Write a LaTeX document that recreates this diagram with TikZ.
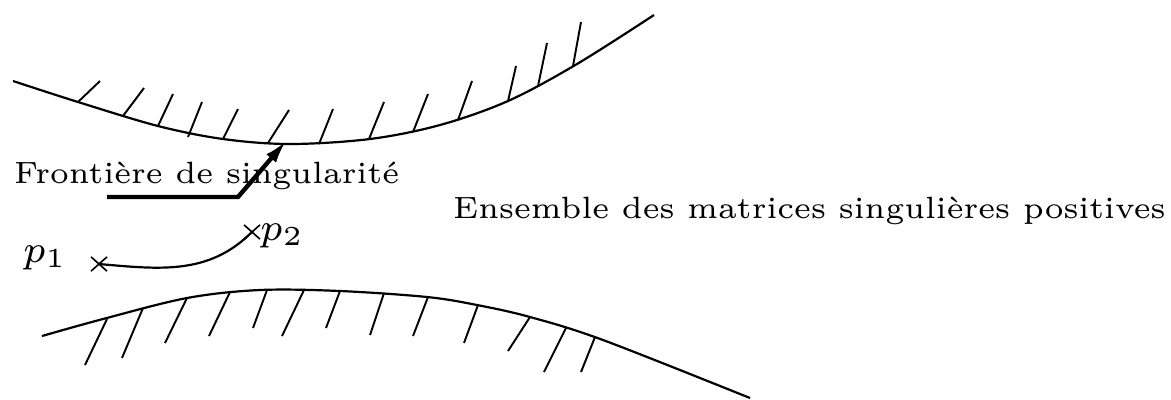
\documentclass[tikz,border=0pt]{standalone}
\usetikzlibrary{arrows.meta,shapes.misc}

\begin{document}
\begin{tikzpicture}[
  x=0.182pt, y=-0.182pt,
  font=\fontsize{5.6}{6.5}\selectfont,
  bord/.style={line width=0.4pt},
  hatch/.style={line width=0.35pt},
  croix/.style={cross out, draw, line width=0.3pt, minimum width=2.6pt, minimum height=2.3pt, inner sep=0pt},
  lbl/.style={anchor=base west, inner sep=0pt},
  pt/.style={lbl, font=\fontsize{7}{8}\selectfont},
  arr/.style={-{Latex[length=4.4pt,width=2.3pt]}, line width=0.8pt}
]
\useasboundingbox (0,0) rectangle (1171,399);

\draw[bord] plot[smooth, tension=0.55] coordinates {(13,81) (78,102) (158,126) (223,139) (290,144)
  (370,139) (440,125) (508,101) (577,64) (654,15)};
\foreach \xa/\ya/\xb/\yb in {78/102/100/81, 123/116/144/88, 158/126/173/94, 188/137/202/102,
  223/139/238/109, 268/143/289/110, 319/144/333/109, 369/139/384/102, 413/132/428/94,
  458/120/472/81, 508/101/516/66, 538/86/547/43, 573/66/581/22}
  \draw[hatch] (\xa,\ya) -- (\xb,\yb);

\draw[bord] plot[smooth, tension=0.55] coordinates {(42,336) (103,319) (187,298) (260,290) (340,291)
  (427,297) (477,305) (530,317) (603,340) (750,398)};
\foreach \xa/\ya/\xb/\yb in {107/319/85/365, 143/308/122/358, 187/298/165/343, 230/292/209/336,
  267/290/253/328, 304/290/282/336, 340/291/326/328, 384/293/370/335, 428/297/413/336,
  478/305/464/343, 530/317/508/351, 566/328/544/372, 595/337/581/372}
  \draw[hatch] (\xa,\ya) -- (\xb,\yb);

\node[lbl] (front) at (13,183) {Frontière de singularité};
\node[lbl] (ens) at (452,218) {Ensemble des matrices singulières positives};

\coordinate (fs) at (107,197);
\coordinate (fc) at (238,197);
\coordinate (ft) at (287,140);
\draw[arr] (fs) -- (fc) -- (ft);

\node[croix] (x1) at (99,264) {};
\node[croix] (x2) at (252,232) {};
\node[pt] (p1) at (22,262) {$p_1$};
\node[pt] (p2) at (259,240) {$p_2$};
\draw[bord] (x1.center) to[out=-5, in=225] (x2.center);
\end{tikzpicture}
\end{document}
